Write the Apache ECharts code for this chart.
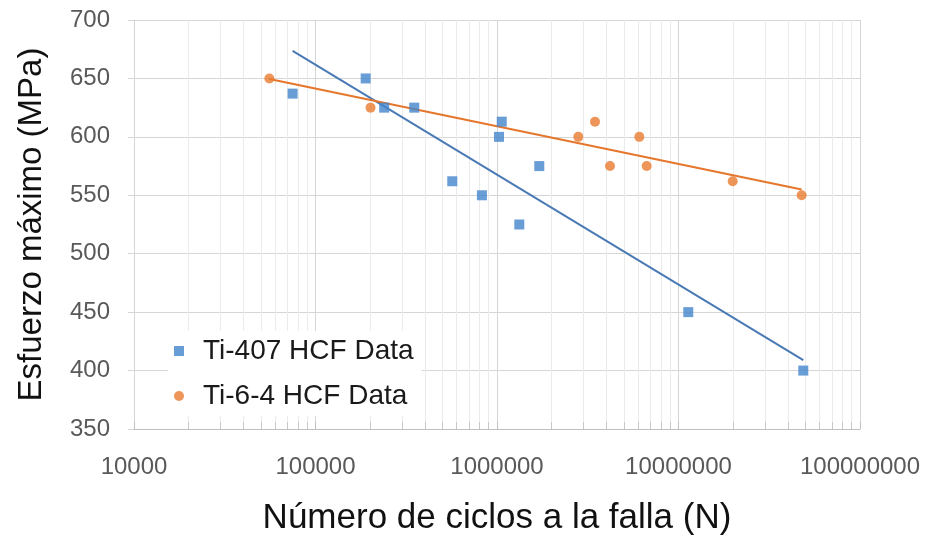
<!DOCTYPE html>
<html>
<head>
<meta charset="utf-8">
<script src="https://cdn.jsdelivr.net/npm/echarts@6/dist/echarts.min.js"></script>
<style>html,body{margin:0;padding:0;background:#fff;}#chart{width:929px;height:541px;}</style>
</head>
<body>
<div id="chart"></div>
<script>
// Ti-407 HCF Data: [cycles, stress MPa]
const ti407Cycles = [74800, 189000, 239000, 350000, 567000, 826000, 1026000, 1062000, 1327000, 1710000, 11320000, 48700000];
const ti407Stress = [637, 650, 625, 625, 562, 550, 600, 613, 525, 575, 450, 400];
// Ti-6-4 HCF Data
const ti64Cycles = [55700, 201000, 2805000, 3467000, 4194000, 6083000, 6680000, 19890000, 47700000];
const ti64Stress = [650, 625, 600, 613, 575, 600, 575, 562, 550];
// Trendlines (read endpoints)
const trend407Cycles = [74800, 48700000];
const trend407Stress = [673.5, 409];
const trend64Cycles = [55700, 47700000];
const trend64Stress = [649.5, 555];
const yTicks = [350, 400, 450, 500, 550, 600, 650, 700];

const zip = (a, b) => a.map((v, i) => [v, b[i]]);
const font = '"Liberation Sans", Arial, sans-serif';
const chart = echarts.init(document.getElementById('chart'), null, {renderer: 'canvas'});
chart.setOption({
  backgroundColor: '#fff',
  animation: false,
  grid: {left: 134, right: 69, top: 20, bottom: 111, containLabel: false},
  legend: {
    left: 168, top: 331, orient: 'vertical',
    backgroundColor: '#fff',
    padding: [4, 8, 4, 6],
    itemGap: 13, itemWidth: 10, itemHeight: 10,
    data: [
      {name: 'Ti-407 HCF Data', icon: 'rect'},
      {name: 'Ti-6-4 HCF Data', icon: 'circle'}
    ],
    textStyle: {fontFamily: font, fontSize: 28, color: '#1a1a1a', lineHeight: 32, padding: [0, 0, 0, 14]}
  },
  xAxis: {
    type: 'log', logBase: 10, min: 10000, max: 100000000,
    name: 'Número de ciclos a la falla (N)', nameLocation: 'middle', nameGap: 72,
    nameTextStyle: {fontFamily: font, fontSize: 35, color: '#111'},
    axisLine: {show: true, lineStyle: {color: '#bfbfbf', width: 1}},
    axisTick: {show: true, inside: true, length: 7, lineStyle: {color: '#bfbfbf'}},
    minorTick: {show: true, splitNumber: 9, length: 7, lineStyle: {color: '#c8c8c8'}},
    splitLine: {show: true, lineStyle: {color: '#d6d6d6', width: 1}},
    minorSplitLine: {show: true, lineStyle: {color: '#ebebeb', width: 1}},
    axisLabel: {fontFamily: font, fontSize: 24, color: '#595959', margin: 26,
      formatter: v => String(Math.round(v))}
  },
  yAxis: {
    type: 'value', min: 350, max: 700, interval: 50,
    name: 'Esfuerzo máximo (MPa)', nameLocation: 'middle', nameGap: 86,
    nameTextStyle: {fontFamily: font, fontSize: 33, color: '#111'},
    axisLine: {show: true, lineStyle: {color: '#d6d6d6'}},
    axisTick: {show: true, length: 6, lineStyle: {color: '#d6d6d6'}},
    splitLine: {show: true, lineStyle: {color: '#d6d6d6', width: 1}},
    axisLabel: {fontFamily: font, fontSize: 24, color: '#595959', margin: 24,
      formatter: v => yTicks.includes(v) ? String(v) : ''}
  },
  series: [
    {name: 'trend407', type: 'line', data: zip(trend407Cycles, trend407Stress), showSymbol: false, symbol: 'none',
      lineStyle: {color: '#4a7ab5', width: 2}, z: 3, silent: true},
    {name: 'trend64', type: 'line', data: zip(trend64Cycles, trend64Stress), showSymbol: false, symbol: 'none',
      lineStyle: {color: '#e5762c', width: 2}, z: 3, silent: true},
    {name: 'Ti-407 HCF Data', type: 'scatter', data: zip(ti407Cycles, ti407Stress), symbol: 'rect', symbolSize: 10,
      itemStyle: {color: '#4385cc'}, z: 4},
    {name: 'Ti-6-4 HCF Data', type: 'scatter', data: zip(ti64Cycles, ti64Stress), symbol: 'circle', symbolSize: 10,
      itemStyle: {color: '#ea7b30'}, z: 4}
  ]
});
</script>
</body>
</html>
